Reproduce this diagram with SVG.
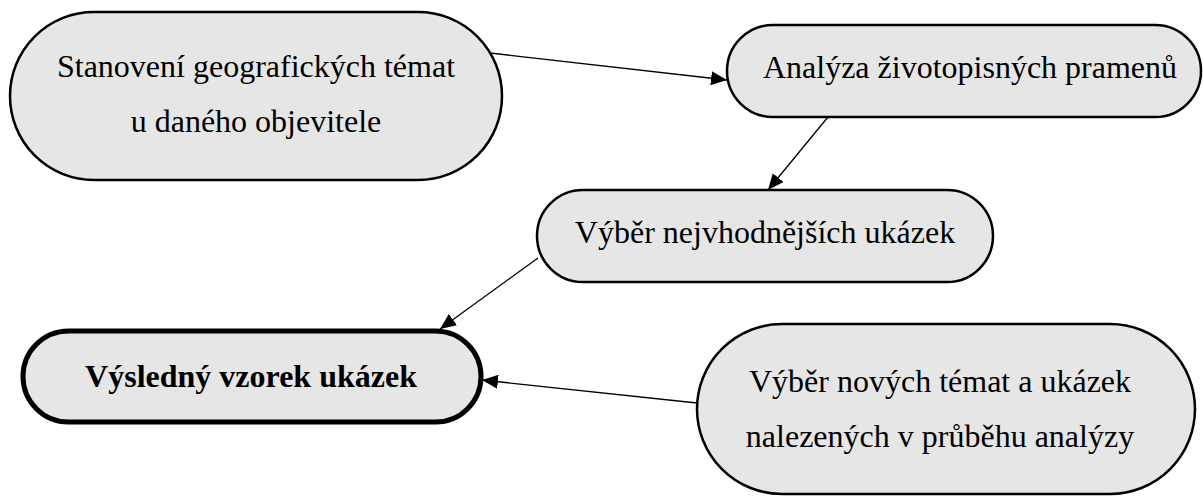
<svg xmlns="http://www.w3.org/2000/svg" width="1203" height="497" viewBox="0 0 1203 497">
<style>
.node{fill:#e6e6e6;stroke:#000;stroke-width:2.5}
.final{fill:#e6e6e6;stroke:#000;stroke-width:5}
.t{font-family:"Liberation Serif","Times New Roman",serif;font-size:32px;fill:#000;text-anchor:middle}
.b{font-weight:bold}
.edge{stroke:#000;stroke-width:1.3;fill:none;marker-end:url(#ah)}
</style>
<defs>
<marker id="ah" markerUnits="userSpaceOnUse" markerWidth="16" markerHeight="14" refX="16" refY="7" orient="auto">
<path d="M0,0 L16,7 L0,14 Z" fill="#000"/>
</marker>
</defs>
<rect width="1203" height="497" fill="#fff"/>
<g id="connectors">
<line class="edge" x1="490" y1="53" x2="727" y2="80"/>
<line class="edge" x1="828" y1="117" x2="768" y2="190"/>
<line class="edge" x1="538" y1="258" x2="440" y2="329"/>
<line class="edge" x1="697" y1="403" x2="482" y2="380"/>
</g>
<g id="n1">
<rect class="node" x="10" y="12" width="492" height="168" rx="84" ry="84"/>
<text class="t" x="256" y="77">Stanovení geografických témat</text>
<text class="t" x="256" y="132">u daného objevitele</text>
</g>
<g id="n2">
<rect class="node" x="727" y="25" width="474" height="92" rx="46" ry="46"/>
<text class="t" x="970" y="78">Analýza životopisných pramenů</text>
</g>
<g id="n3">
<rect class="node" x="537" y="190" width="456" height="92" rx="46" ry="46"/>
<text class="t" x="765" y="243">Výběr nejvhodnějších ukázek</text>
</g>
<g id="n4">
<rect class="final" x="23" y="331" width="458" height="91" rx="45.5" ry="45.5"/>
<text class="t b" x="251" y="387">Výsledný vzorek ukázek</text>
</g>
<g id="n5">
<rect class="node" x="697" y="324" width="498" height="170" rx="85" ry="85"/>
<text class="t" x="940" y="392">Výběr nových témat a ukázek</text>
<text class="t" x="940" y="447">nalezených v průběhu analýzy</text>
</g>
</svg>
